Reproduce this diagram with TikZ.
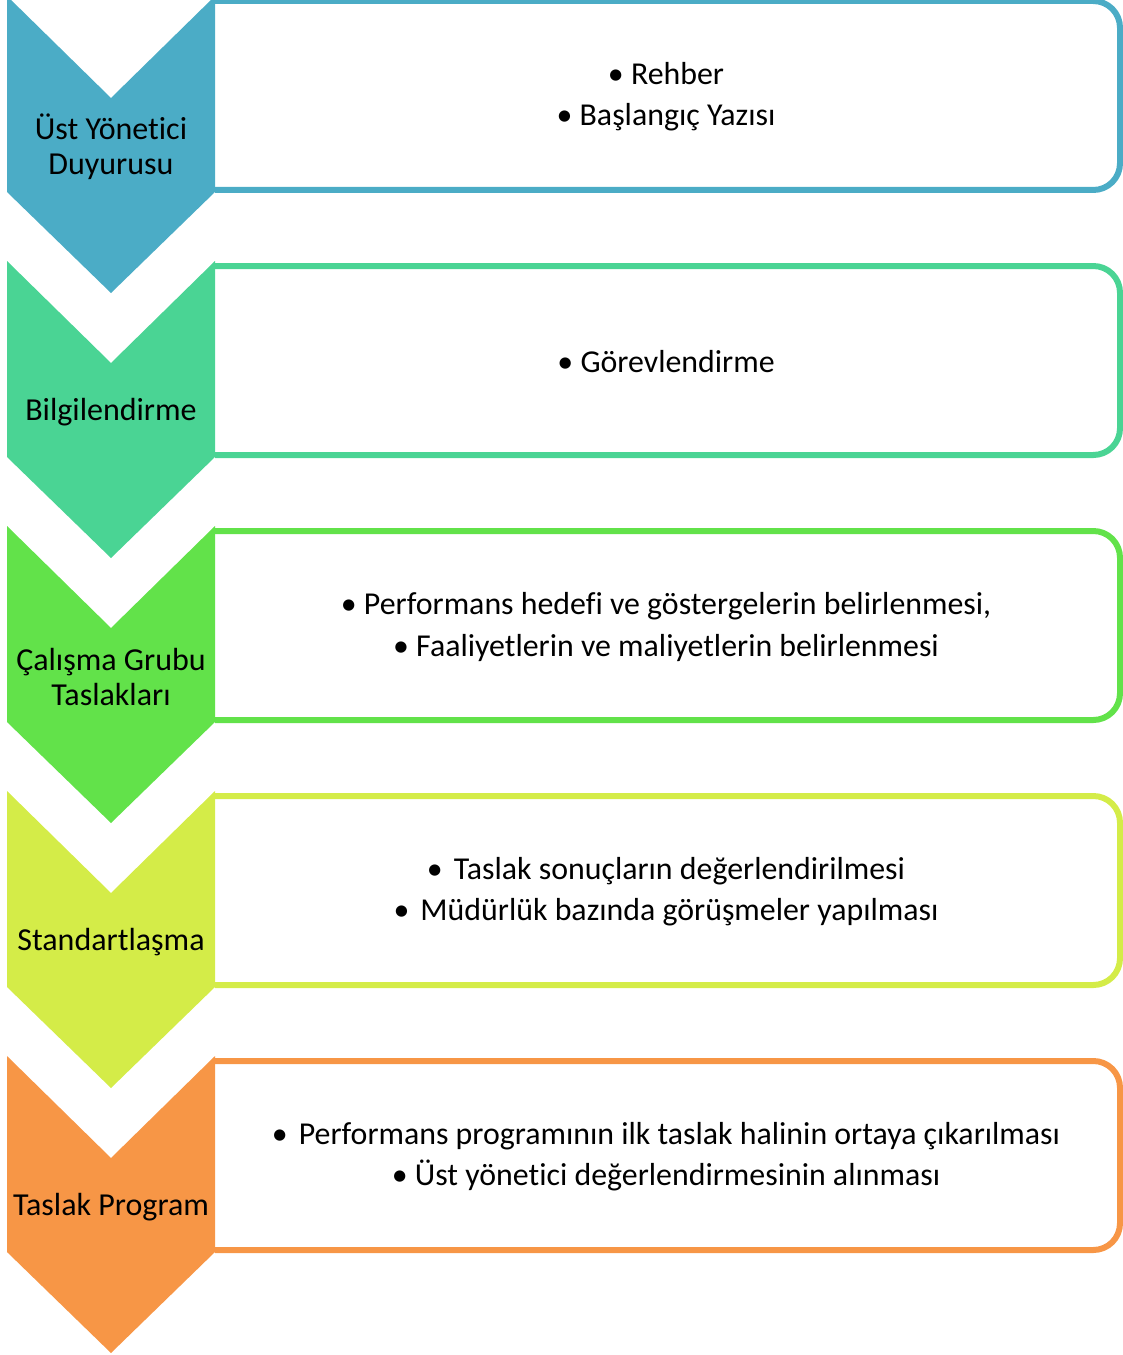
\documentclass[tikz,border=0pt]{standalone}
\usepackage{fontspec}
\setmainfont[Ligatures=NoCommon]{Carlito}
\definecolor{cA}{HTML}{4BACC6}
\definecolor{cB}{HTML}{4AD494}
\definecolor{cC}{HTML}{62E24A}
\definecolor{cD}{HTML}{D4EC48}
\definecolor{cE}{HTML}{F79646}
\tikzset{
  frame/.style={line width=4.5pt, rounded corners=20pt},
  lbl/.style={align=center, font=\fontsize{24}{26.3}\selectfont, text=black, inner sep=0pt},
  items/.style={align=center, font=\fontsize{23.9}{30.8}\selectfont, text=black, inner sep=0pt},
}
\newcommand{\chevstep}[5]{%
  % #1 top y, #2 colour, #3 name, #4 label, #5 items
  \draw[frame, draw=#2] (215,#1+5) -- (1120,#1+5) -- (1120,#1+194) -- (215,#1+194);
  \fill[#2] (7,#1) -- (111,#1+102) -- (215,#1) -- (215,#1+196) -- (111,#1+297) -- (7,#1+196) -- cycle;
  \node[lbl] (#3l) at (111,#1+151) {#4};
  \node[items] (#3r) at (666,#1+101) {#5};
}
\begin{document}
\begin{tikzpicture}[x=0.75pt,y=-0.75pt]
\useasboundingbox (0,0) rectangle (1123,1355);
\begin{scope}
\clip (0,0) rectangle (1123,1355);
\chevstep{-4}{cA}{s1}{Üst Yönetici\\Duyurusu}{• Rehber\\• Başlangıç Yazısı}
\chevstep{261}{cB}{s2}{Bilgilendirme}{• Görevlendirme}
\chevstep{526}{cC}{s3}{Çalışma Grubu\\Taslakları}{• Performans hedefi ve göstergelerin belirlenmesi,\\• Faaliyetlerin ve maliyetlerin belirlenmesi}
\chevstep{791}{cD}{s4}{Standartlaşma}{•\hspace{0.12em} Taslak sonuçların değerlendirilmesi\\•\hspace{0.12em} Müdürlük bazında görüşmeler yapılması}
\chevstep{1056}{cE}{s5}{Taslak Program}{•\hspace{0.12em} Performans programının ilk taslak halinin ortaya çıkarılması\\• Üst yönetici değerlendirmesinin alınması}
\end{scope}
\end{tikzpicture}
\end{document}
